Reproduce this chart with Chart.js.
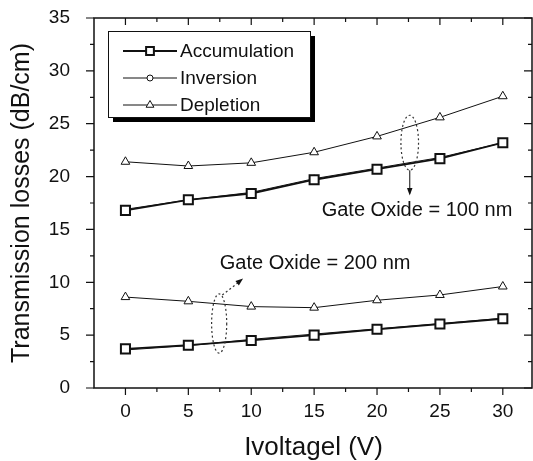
<!DOCTYPE html>
<html>
<head>
<meta charset="utf-8">
<script src="https://cdn.jsdelivr.net/npm/chart.js@4.4.1/dist/chart.umd.min.js"></script>
<style>
html, body { margin: 0; padding: 0; background: #fff; overflow: hidden; }
</style>
</head>
<body>
<canvas id="grafico" width="533" height="461"></canvas>
<script>
const voltaje = [0, 5, 10, 15, 20, 25, 30];
const series = ["Accumulation", "Inversion", "Depletion"];
// Gate Oxide = 100 nm
const acum100 = [16.8, 17.8, 18.4, 19.7, 20.7, 21.7, 23.2];
const inv100  = [16.9, 17.8, 18.5, 19.8, 20.8, 21.8, 23.2];
const depl100 = [21.4, 21.0, 21.3, 22.3, 23.8, 25.6, 27.6];
// Gate Oxide = 200 nm
const acum200 = [3.7, 4.05, 4.5, 5.0, 5.55, 6.05, 6.55];
const inv200  = [3.6, 4.0, 4.6, 5.1, 5.6, 6.1, 6.6];
const depl200 = [8.6, 8.2, 7.7, 7.6, 8.3, 8.8, 9.6];
const ticksX = [0, 5, 10, 15, 20, 25, 30];
const ticksY = [0, 5, 10, 15, 20, 25, 30, 35];
const notas = ["Gate Oxide = 100 nm", "Gate Oxide = 200 nm"];

const fuente = "'Liberation Sans', Arial, sans-serif";
const negro = "#111";

const estilos = [
    { pointStyle: 'rect', radius: 6.4, borderWidth: 2, lineWidth: 1.8 },
    { pointStyle: 'circle', radius: 3.5, borderWidth: 1, lineWidth: 1 },
    { pointStyle: 'triangle', radius: 5, borderWidth: 1, lineWidth: 1 }
];

function puntos(valores) {
    return voltaje.map(function (v, i) { return { x: v, y: valores[i] }; });
}

function dataset(label, valores, k) {
    const e = estilos[k];
    return {
        label: label,
        data: puntos(valores),
        borderColor: negro,
        borderWidth: e.lineWidth,
        pointStyle: e.pointStyle,
        pointRadius: e.radius,
        pointBorderWidth: e.borderWidth,
        pointBackgroundColor: '#fff',
        pointBorderColor: negro,
        tension: 0
    };
}

const datasets = [
    dataset(series[0], acum100, 0),
    dataset(series[0], acum200, 0),
    dataset(series[1], inv100, 1),
    dataset(series[1], inv200, 1),
    dataset(series[2], depl100, 2),
    dataset(series[2], depl200, 2)
];

// marco y marcas de los ejes
const marco = {
    id: 'marco',
    afterDraw: function (chart) {
        const ctx = chart.ctx;
        const a = chart.chartArea;
        const sx = chart.scales.x, sy = chart.scales.y;
        ctx.save();
        ctx.strokeStyle = negro;
        ctx.lineWidth = 1.5;
        ctx.strokeRect(a.left, a.top, a.right - a.left - 1, a.bottom - a.top);
        ctx.lineWidth = 1.2;
        ctx.beginPath();
        for (let v = -2.5; v <= 32.5; v += 2.5) {
            const x = sx.getPixelForValue(v);
            if (x < a.left + 1 || x > a.right) continue;
            const len = (v % 5 === 0) ? 7 : 4;
            ctx.moveTo(x, a.bottom); ctx.lineTo(x, a.bottom + len);
            ctx.moveTo(x, a.top); ctx.lineTo(x, a.top + len);
        }
        for (let v = 0; v <= 35; v += 2.5) {
            const y = sy.getPixelForValue(v);
            const len = (v % 5 === 0) ? 8 : 4;
            ctx.moveTo(a.left, y); ctx.lineTo(a.left - len, y);
            ctx.moveTo(a.right - 1, y); ctx.lineTo(a.right - 1 - len, y);
        }
        ctx.stroke();
        ctx.restore();
    }
};

// leyenda con sombra
const leyenda = {
    id: 'leyenda',
    afterDraw: function (chart) {
        const ctx = chart.ctx;
        ctx.save();
        ctx.fillStyle = '#000';
        ctx.fillRect(113, 36, 202, 86);
        ctx.fillStyle = '#fff';
        ctx.fillRect(108, 31, 202, 86);
        ctx.strokeStyle = negro;
        ctx.lineWidth = 1;
        ctx.strokeRect(108.5, 31.5, 202, 86);
        series.forEach(function (nombre, i) {
            const y = 51 + i * 27;
            const e = estilos[i];
            ctx.strokeStyle = negro;
            ctx.lineWidth = e.lineWidth;
            ctx.beginPath();
            ctx.moveTo(123, y); ctx.lineTo(177, y);
            ctx.stroke();
            ctx.fillStyle = '#fff';
            ctx.lineWidth = e.borderWidth;
            Chart.helpers.drawPoint(ctx, {
                pointStyle: e.pointStyle,
                radius: i === 0 ? 5.5 : (i === 1 ? 3 : 4.5),
                borderWidth: e.borderWidth,
                rotation: 0
            }, 150, y);
            ctx.fillStyle = negro;
            ctx.font = '19px ' + fuente;
            ctx.textBaseline = 'middle';
            ctx.fillText(nombre, 180, y + 1);
        });
        ctx.restore();
    }
};

function flecha(ctx, x1, y1, x2, y2) {
    const ang = Math.atan2(y2 - y1, x2 - x1);
    ctx.beginPath();
    ctx.moveTo(x2, y2);
    ctx.lineTo(x2 - 8 * Math.cos(ang - 0.35), y2 - 8 * Math.sin(ang - 0.35));
    ctx.lineTo(x2 - 8 * Math.cos(ang + 0.35), y2 - 8 * Math.sin(ang + 0.35));
    ctx.closePath();
    ctx.fill();
}

// elipses, flechas y textos
const notasPlugin = {
    id: 'notas',
    afterDraw: function (chart) {
        const ctx = chart.ctx;
        const sx = chart.scales.x, sy = chart.scales.y;
        const px = function (v) { return sx.getPixelForValue(v); };
        const py = function (v) { return sy.getPixelForValue(v); };
        ctx.save();
        ctx.strokeStyle = '#333';
        ctx.fillStyle = negro;
        ctx.lineWidth = 1.2;
        ctx.setLineDash([2, 2.5]);

        // 100 nm
        let cx = px(22.6), cy = (py(25.8) + py(20.6)) / 2;
        ctx.beginPath();
        ctx.ellipse(cx, cy, (px(23.3) - px(22.6)), (py(20.6) - py(25.8)) / 2, 0, 0, Math.PI * 2);
        ctx.stroke();
        ctx.setLineDash([]);
        ctx.beginPath();
        ctx.moveTo(cx, py(20.6)); ctx.lineTo(cx, py(18.4));
        ctx.stroke();
        flecha(ctx, cx, py(20.6), cx, py(18.2));

        // 200 nm
        ctx.setLineDash([2, 2.5]);
        cx = px(7.45); cy = (py(8.9) + py(3.3)) / 2;
        ctx.beginPath();
        ctx.ellipse(cx, cy, (px(8.05) - px(7.45)), (py(3.3) - py(8.9)) / 2, 0, 0, Math.PI * 2);
        ctx.stroke();
        ctx.beginPath();
        ctx.moveTo(px(7.7), py(8.8)); ctx.lineTo(px(9.1), py(10.1));
        ctx.stroke();
        ctx.setLineDash([]);
        flecha(ctx, px(7.7), py(8.8), px(9.35), py(10.35));

        ctx.font = '20px ' + fuente;
        ctx.textBaseline = 'middle';
        ctx.fillText(notas[0], px(15.6), py(16.75));
        ctx.fillText(notas[1], px(7.5), py(11.8));
        ctx.restore();
    }
};

new Chart(document.getElementById('grafico'), {
    type: 'line',
    data: { datasets: datasets },
    plugins: [marco, leyenda, notasPlugin],
    options: {
        responsive: false,
        animation: false,
        layout: { autoPadding: false, padding: { top: 18, right: 0, left: 0, bottom: 0 } },
        plugins: { legend: { display: false }, tooltip: { enabled: false } },
        scales: {
            x: {
                type: 'linear',
                min: -2.5,
                max: 32.4,
                afterBuildTicks: function (s) { s.ticks = ticksX.map(function (v) { return { value: v }; }); },
                afterFit: function (s) { s.height = 73; s.paddingLeft = 0; s.paddingRight = 0; },
                grid: { display: false, drawTicks: false },
                border: { display: false },
                ticks: { color: negro, font: { family: fuente, size: 19 }, padding: 12, maxRotation: 0 },
                title: { display: true, text: 'Ivoltagel (V)', color: negro, font: { family: fuente, size: 26 }, padding: { top: 0, bottom: -2 } }
            },
            y: {
                min: 0,
                max: 35,
                afterBuildTicks: function (s) { s.ticks = ticksY.map(function (v) { return { value: v }; }); },
                afterFit: function (s) { s.width = 94; s.paddingTop = 0; s.paddingBottom = 0; },
                grid: { display: false, drawTicks: false },
                border: { display: false },
                ticks: { color: negro, font: { family: fuente, size: 19 }, padding: 24 },
                title: { display: true, text: 'Transmission losses (dB/cm)', color: negro, font: { family: fuente, size: 25 }, padding: { top: 7, bottom: 0 } }
            }
        }
    }
});
</script>
</body>
</html>
